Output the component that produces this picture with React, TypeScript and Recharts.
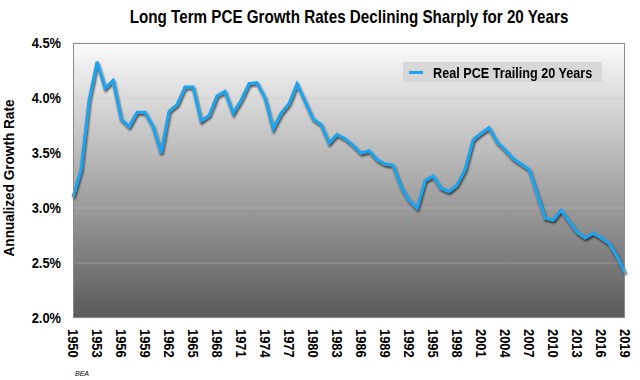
import React from 'react'
import {
  LineChart,
  Line,
  XAxis,
  YAxis,
  CartesianGrid,
} from 'recharts'

const FONT = "'Liberation Sans', Arial, sans-serif"

const YEARS = Array.from({ length: 70 }, (_, i) => String(1950 + i))

// Real PCE growth, trailing 20 years, annualized %
const RATES = [
  3.10, 3.35, 3.98, 4.33, 4.09, 4.16, 3.81, 3.74, 3.87, 3.87,
  3.74, 3.50, 3.88, 3.94, 4.10, 4.10, 3.79, 3.84, 4.02, 4.06,
  3.86, 3.98, 4.13, 4.14, 4.00, 3.72, 3.86, 3.95, 4.13, 3.97,
  3.81, 3.76, 3.59, 3.67, 3.63, 3.57, 3.50, 3.52, 3.44, 3.40,
  3.39, 3.19, 3.07, 3.00, 3.25, 3.29, 3.18, 3.15, 3.21, 3.35,
  3.62, 3.68, 3.73, 3.60, 3.53, 3.45, 3.40, 3.35, 3.13, 2.91,
  2.89, 2.98, 2.88, 2.78, 2.73, 2.77, 2.73, 2.68, 2.56, 2.41,
]

const Y_TICKS = [2.0, 2.5, 3.0, 3.5, 4.0, 4.5]

const TITLE = 'Long Term PCE Growth Rates Declining Sharply for 20 Years'
const SERIES_NAME = 'Real PCE Trailing 20 Years'
const LINE_COLOR = '#1ba4ef'

const data = YEARS.map((year, i) => ({ year, rate: RATES[i] }))

// rotated year labels, squeezed a bit along the text to mimic a condensed face
function YearTick(props: any) {
  const { x, y, payload } = props
  return (
    <text
      transform={`translate(${x},${y}) rotate(90) scale(0.92,1)`}
      textAnchor="start"
      dy="0.36em"
      fontFamily={FONT}
      fontWeight="bold"
      fontSize={14}
      fill="#000"
    >
      {payload.value}
    </text>
  )
}

function RateTick(props: any) {
  const { x, y, payload } = props
  return (
    <text
      transform={`translate(${x},${y}) scale(0.92,1)`}
      textAnchor="end"
      dy="0.36em"
      fontFamily={FONT}
      fontWeight="bold"
      fontSize={14}
      fill="#000"
    >
      {Number(payload.value).toFixed(1)}%
    </text>
  )
}

const textBase: React.CSSProperties = {
  position: 'absolute',
  fontFamily: FONT,
  fontWeight: 'bold',
  color: '#000',
  whiteSpace: 'nowrap',
  lineHeight: 1,
}

export default function App() {
  return (
    <div style={{ position: 'absolute', left: 0, top: 0, width: 640, height: 380, background: '#fff', overflow: 'hidden' }}>
      {/* shared svg defs (gradient + line shadow) */}
      <svg width={0} height={0} style={{ position: 'absolute' }}>
        <defs>
          <linearGradient id="plotBg" x1="0" y1="0" x2="0" y2="1">
            <stop offset="0%" stopColor="#fbfbfb" />
            <stop offset="100%" stopColor="#5a5a5a" />
          </linearGradient>
          <filter id="lineShadow" x="-5%" y="-10%" width="110%" height="130%">
            <feDropShadow dx="1" dy="2" stdDeviation="1.2" floodColor="#000" floodOpacity="0.7" />
          </filter>
        </defs>
      </svg>

      <div
        style={{
          ...textBase,
          left: 349,
          top: 7,
          fontSize: 19,
          transform: 'translateX(-50%) scaleX(0.8)',
        }}
      >
        {TITLE}
      </div>

      <div
        style={{
          ...textBase,
          left: 9,
          top: 178,
          fontSize: 14,
          transform: 'translate(-50%, -50%) rotate(-90deg) scaleX(0.97)',
        }}
      >
        Annualized Growth Rate
      </div>

      <LineChart
        width={640}
        height={380}
        data={data}
        margin={{ top: 43, right: 15, bottom: 0, left: 0 }}
      >
        <CartesianGrid
          vertical={false}
          fill="url(#plotBg)"
          stroke="rgba(200,200,200,0.4)"
        />
        <XAxis
          dataKey="year"
          interval={2}
          height={62}
          tickLine={false}
          axisLine={false}
          tickMargin={5}
          tick={<YearTick />}
        />
        <YAxis
          domain={[2, 4.5]}
          ticks={Y_TICKS}
          width={73}
          tickLine={false}
          axisLine={false}
          tickMargin={6}
          tick={<RateTick />}
        />
        <Line
          type="linear"
          dataKey="rate"
          name={SERIES_NAME}
          stroke={LINE_COLOR}
          strokeWidth={3}
          dot={false}
          activeDot={false}
          filter="url(#lineShadow)"
          isAnimationActive={false}
        />
      </LineChart>

      {/* plot frame */}
      <div
        style={{
          position: 'absolute',
          left: 73,
          top: 43,
          width: 552,
          height: 275,
          boxSizing: 'border-box',
          border: '1px solid #8a8a8a',
          pointerEvents: 'none',
        }}
      />

      {/* legend */}
      <div
        style={{
          position: 'absolute',
          left: 403,
          top: 62,
          width: 199,
          height: 20,
          background: 'rgba(212,212,212,0.85)',
        }}
      >
        <span style={{ position: 'absolute', left: 6, top: 9, width: 14, height: 3, background: LINE_COLOR }} />
        <span
          style={{
            ...textBase,
            left: 30,
            top: 3,
            fontSize: 15,
            transform: 'scaleX(0.843)',
            transformOrigin: 'left center',
          }}
        >
          {SERIES_NAME}
        </span>
      </div>

      <div
        style={{
          position: 'absolute',
          left: 75,
          top: 370,
          fontFamily: FONT,
          fontStyle: 'italic',
          fontSize: 7,
          color: '#000',
        }}
      >
        BEA
      </div>
    </div>
  )
}
